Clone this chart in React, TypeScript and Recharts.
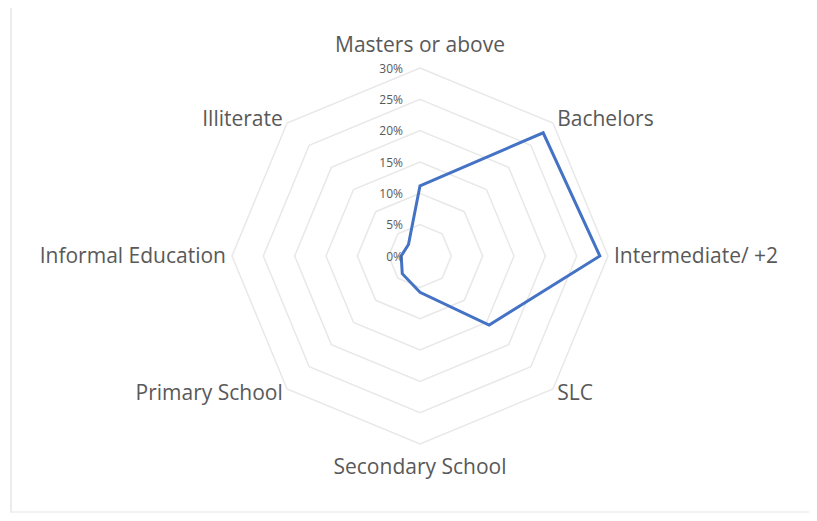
import React from 'react';
import {
  RadarChart,
  Radar,
  PolarGrid,
  PolarAngleAxis,
  PolarRadiusAxis,
} from 'recharts';

const categories = [
  'Masters or above',
  'Bachelors',
  'Intermediate/ +2',
  'SLC',
  'Secondary School',
  'Primary School',
  'Informal Education',
  'Illiterate',
];
const shares = [11.2, 27.8, 28.7, 15.6, 5.8, 4.0, 3.0, 2.6];
const radiusTicks = [0, 5, 10, 15, 20, 25, 30];

const data = categories.map((name, i) => ({ name, value: shares[i] }));

const FONT = '"Open Sans", Lato, sans-serif';

function AngleTick(props: any) {
  const { x, y, payload, textAnchor, cy } = props;
  let dy = -1;
  if (textAnchor === 'middle') dy = y < cy ? -18 : 16;
  return (
    <text
      x={x}
      y={y + dy}
      textAnchor={textAnchor}
      dominantBaseline="central"
      fill="#595959"
      fontSize={21}
      fontFamily={FONT}
    >
      {payload.value}
    </text>
  );
}

function RadiusTick(props: any) {
  const { x, y, payload } = props;
  return (
    <text
      x={x - 17}
      y={y}
      textAnchor="end"
      dominantBaseline="central"
      fill="#595959"
      fontSize={12}
      fontFamily={FONT}
    >
      {`${payload.value}%`}
    </text>
  );
}

export default function App() {
  return (
    <div style={{ position: 'relative', width: 801, height: 505, background: '#fff' }}>
      <div
        style={{
          position: 'absolute',
          left: 2,
          top: 0,
          width: 799,
          height: 505,
          borderLeft: '2px solid #ececec',
          borderBottom: '2px solid #f2f2f2',
          boxSizing: 'border-box',
        }}
      />
      <RadarChart
        width={801}
        height={505}
        data={data}
        cx={412}
        cy={248}
        outerRadius={188}
        startAngle={90}
        endAngle={-270}
        style={{ position: 'absolute', left: 0, top: 0 }}
      >
        <PolarGrid gridType="polygon" radialLines={false} stroke="#e8e8e8" strokeWidth={1.5} />
        <PolarAngleAxis
          dataKey="name"
          tick={(p: any) => <AngleTick {...p} cy={248} />}
          tickLine={false}
          axisLine={false}
          tickSize={6}
        />
        <PolarRadiusAxis
          angle={90}
          domain={[0, 30]}
          ticks={radiusTicks as any}
          tickCount={7}
          tick={(p: any) => <RadiusTick {...p} />}
          axisLine={false}
          tickLine={false}
        />
        <Radar
          dataKey="value"
          stroke="#4472C4"
          strokeWidth={3}
          fill="none"
          fillOpacity={0}
          dot={false}
          isAnimationActive={false}
        />
      </RadarChart>
    </div>
  );
}
